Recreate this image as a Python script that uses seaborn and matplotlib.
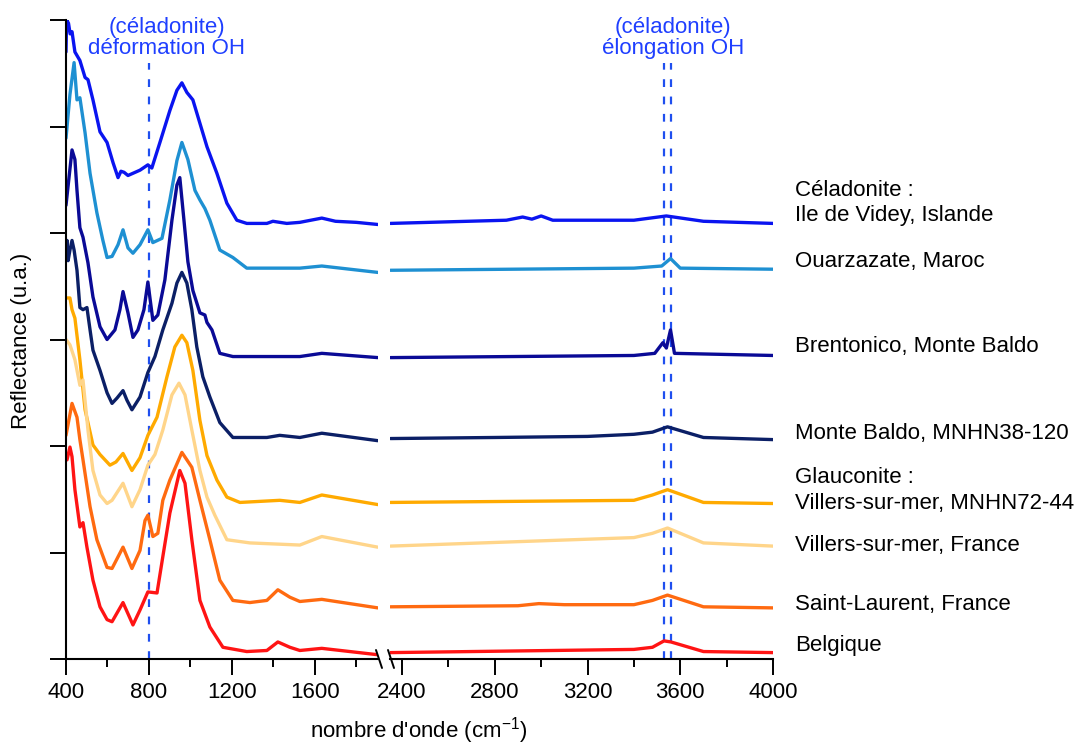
import pandas as pd
import matplotlib
matplotlib.use("Agg")
import matplotlib.pyplot as plt
from matplotlib.lines import Line2D
import seaborn as sns

# spectra (wavenumber in cm-1, reflectance in u.a.)
videy_wn = [400, 403, 412, 420, 429, 443, 467, 492, 506, 530, 564, 598, 627, 651, 665, 680, 699, 757, 795, 814,
            853, 901, 935, 959, 983, 1012, 1046, 1080, 1128, 1176, 1224, 1272, 1369, 1398, 1465, 1528, 1634, 1700,
            1800, 1904,
            2350, 2850, 2920, 2960, 3000, 3050, 3400, 3540, 3700, 4000]
videy_r = [5.70, 6.00, 5.97, 5.87, 5.89, 5.70, 5.62, 5.46, 5.44, 5.25, 4.95, 4.85, 4.66, 4.52, 4.58, 4.57, 4.54,
           4.59, 4.64, 4.61, 4.85, 5.15, 5.34, 5.41, 5.32, 5.25, 5.03, 4.81, 4.56, 4.28, 4.12, 4.09, 4.09, 4.11,
           4.09, 4.10, 4.14, 4.11, 4.10, 4.08,
           4.09, 4.12, 4.15, 4.13, 4.16, 4.12, 4.12, 4.16, 4.11, 4.09]

ouarz_wn = [400, 419, 439, 453, 467, 492, 516, 549, 578, 598, 622, 651, 675, 699, 723, 757, 795, 819, 863, 901,
            935, 959, 988, 1022, 1046, 1070, 1094, 1142, 1205, 1272, 1528, 1634, 1904,
            2350, 3400, 3520, 3558, 3600, 4000]
ouarz_r = [4.89, 5.30, 5.60, 5.25, 5.27, 4.94, 4.56, 4.19, 3.93, 3.77, 3.78, 3.89, 4.03, 3.86, 3.81, 3.89, 4.03,
           3.91, 3.95, 4.31, 4.68, 4.85, 4.69, 4.40, 4.31, 4.23, 4.12, 3.84, 3.77, 3.67, 3.67, 3.69, 3.63,
           3.65, 3.67, 3.69, 3.76, 3.67, 3.66]

brento_wn = [400, 429, 443, 453, 467, 482, 506, 530, 564, 598, 636, 660, 675, 699, 723, 747, 776, 795, 819, 843,
             877, 911, 935, 949, 969, 988, 1012, 1046, 1070, 1080, 1104, 1142, 1205, 1528, 1634, 1904,
             2350, 3400, 3490, 3525, 3540, 3558, 3575, 4000]
brento_r = [4.26, 4.78, 4.69, 4.40, 4.05, 3.96, 3.72, 3.40, 3.12, 3.00, 3.09, 3.28, 3.45, 3.25, 3.02, 3.09, 3.28,
            3.54, 3.18, 3.23, 3.56, 4.12, 4.45, 4.52, 4.12, 3.73, 3.46, 3.25, 3.23, 3.16, 3.09, 2.87, 2.84, 2.84,
            2.87, 2.83,
            2.83, 2.85, 2.87, 2.97, 2.92, 3.09, 2.87, 2.85]

mbaldo_wn = [400, 405, 410, 419, 429, 439, 453, 467, 482, 501, 516, 530, 564, 598, 622, 646, 675, 694, 718, 757,
             795, 829, 867, 911, 935, 959, 983, 1007, 1031, 1060, 1094, 1142, 1205, 1369, 1431, 1528, 1634, 1904,
             2350, 2800, 3200, 3400, 3480, 3545, 3700, 4000]
mbaldo_r = [3.80, 3.93, 3.74, 3.84, 3.93, 3.84, 3.65, 3.30, 3.28, 3.30, 3.09, 2.90, 2.71, 2.50, 2.40, 2.45, 2.52,
            2.43, 2.34, 2.46, 2.69, 2.84, 3.09, 3.34, 3.53, 3.63, 3.53, 3.28, 2.93, 2.65, 2.46, 2.22, 2.08, 2.08,
            2.10, 2.08, 2.12, 2.05,
            2.07, 2.08, 2.09, 2.11, 2.13, 2.18, 2.08, 2.06]

vil72_wn = [400, 419, 429, 443, 467, 492, 530, 564, 612, 641, 675, 718, 757, 795, 839, 887, 925, 959, 983, 1012,
            1046, 1080, 1128, 1176, 1239, 1431, 1528, 1634, 1904,
            2350, 3400, 3480, 3545, 3700, 4000]
vil72_r = [3.39, 3.39, 3.28, 3.20, 2.81, 2.34, 2.01, 1.92, 1.82, 1.85, 1.93, 1.77, 1.89, 2.10, 2.27, 2.65, 2.93,
           3.04, 2.97, 2.71, 2.24, 1.91, 1.68, 1.52, 1.47, 1.49, 1.47, 1.54, 1.45,
           1.47, 1.49, 1.54, 1.59, 1.47, 1.46]

vilfr_wn = [400, 419, 443, 467, 482, 506, 530, 564, 598, 622, 675, 718, 757, 795, 829, 867, 911, 945, 974, 1007,
            1046, 1080, 1118, 1176, 1287, 1528, 1634, 1904,
            2350, 3400, 3480, 3545, 3700, 4000]
vilfr_r = [3.00, 2.95, 2.81, 2.57, 2.62, 2.15, 1.77, 1.54, 1.46, 1.49, 1.65, 1.43, 1.59, 1.82, 1.92, 2.15, 2.48,
           2.59, 2.48, 2.15, 1.77, 1.52, 1.35, 1.12, 1.09, 1.07, 1.15, 1.05,
           1.06, 1.14, 1.18, 1.23, 1.09, 1.06]

stlau_wn = [400, 429, 453, 467, 482, 516, 549, 598, 622, 675, 718, 757, 781, 795, 819, 843, 867, 901, 959, 1007,
            1046, 1094, 1142, 1205, 1287, 1369, 1422, 1480, 1528, 1634, 1904,
            2350, 2900, 2990, 3100, 3400, 3480, 3545, 3700, 4000]
stlau_r = [2.10, 2.40, 2.27, 2.06, 1.87, 1.43, 1.12, 0.86, 0.85, 1.05, 0.85, 1.02, 1.30, 1.35, 1.15, 1.18, 1.49,
           1.68, 1.94, 1.80, 1.49, 1.12, 0.74, 0.55, 0.53, 0.55, 0.65, 0.58, 0.54, 0.56, 0.48,
           0.49, 0.50, 0.52, 0.51, 0.51, 0.55, 0.60, 0.49, 0.48]

belg_wn = [400, 405, 419, 429, 443, 467, 482, 501, 530, 564, 598, 622, 675, 723, 757, 795, 839, 867, 901, 949,
           974, 1007, 1046, 1094, 1157, 1272, 1369, 1422, 1480, 1528, 1634, 1904,
           2350, 3400, 3480, 3530, 3560, 3700, 4000]
belg_r = [1.87, 1.87, 1.99, 1.90, 1.59, 1.24, 1.28, 1.05, 0.74, 0.49, 0.37, 0.35, 0.53, 0.32, 0.46, 0.63, 0.62,
          0.96, 1.37, 1.77, 1.65, 1.12, 0.55, 0.30, 0.11, 0.07, 0.08, 0.16, 0.11, 0.08, 0.10, 0.04,
          0.06, 0.09, 0.11, 0.17, 0.16, 0.07, 0.06]

samples = ["Videy", "Ouarzazate", "Brentonico", "MNHN38-120", "MNHN72-44", "Villers", "Saint-Laurent", "Belgique"]
spectra = [(videy_wn, videy_r), (ouarz_wn, ouarz_r), (brento_wn, brento_r), (mbaldo_wn, mbaldo_r),
           (vil72_wn, vil72_r), (vilfr_wn, vilfr_r), (stlau_wn, stlau_r), (belg_wn, belg_r)]
colors = ["#0A14F0", "#1E90D2", "#0A0A96", "#0B1F66", "#FFAA00", "#FFD58A", "#FF6A10", "#FF1414"]

labels = ["Céladonite :", "Ile de Videy, Islande", "Ouarzazate, Maroc", "Brentonico, Monte Baldo",
          "Monte Baldo, MNHN38-120", "Glauconite :", "Villers-sur-mer, MNHN72-44", "Villers-sur-mer, France",
          "Saint-Laurent, France", "Belgique"]
label_y = [4.40, 4.16, 3.73, 2.93, 2.12, 1.70, 1.46, 1.07, 0.51, 0.13]

oh_bend = [800]
oh_stretch = [3530, 3558]

rows = []
for name, (wn, r) in zip(samples, spectra):
    for w, v in zip(wn, r):
        rows.append((name, w, v))
df = pd.DataFrame(rows, columns=["sample", "wn", "refl"])
df_left = df[df["wn"] < 2100]
df_right = df[df["wn"] > 2100]

sns.set_style("ticks")
plt.rcParams["font.family"] = ["Liberation Sans", "DejaVu Sans"]
plt.rcParams["mathtext.fontset"] = "custom"
plt.rcParams["mathtext.rm"] = "Liberation Sans"
plt.rcParams["axes.linewidth"] = 1.5
plt.rcParams["text.color"] = "black"
plt.rcParams["xtick.color"] = "black"
plt.rcParams["ytick.color"] = "black"
plt.rcParams["xtick.labelcolor"] = "black"

pal = dict(zip(samples, colors))
fig = plt.figure(figsize=(10.87, 7.47), dpi=100)
ax1 = fig.add_axes([66 / 1087, 88 / 747, 312 / 1087, 639 / 747])
ax2 = fig.add_axes([390 / 1087, 88 / 747, 383 / 1087, 639 / 747], sharey=ax1)

for ax, d in [(ax1, df_left), (ax2, df_right)]:
    sns.lineplot(data=d, x="wn", y="refl", hue="sample", palette=pal, estimator=None,
                 linewidth=2.4, legend=False, ax=ax)
    ax.set_xlabel("")
    ax.set_ylabel("")
    ax.spines["top"].set_visible(False)
    ax.spines["right"].set_visible(False)
    for s in ax.spines.values():
        s.set_color("black")
    ax.tick_params(axis="x", which="major", length=11.5, width=1.4, labelsize=16, pad=5,
                   color="black", labelcolor="black")
    ax.tick_params(axis="x", which="minor", length=6, width=1.4, color="black")

ax1.set_xlim(400, 1905)
ax1.set_ylim(0, 6)
ax1.set_xticks([400, 800, 1200, 1600])
ax1.set_xticks([600, 1000, 1400, 1800], minor=True)
ax1.set_yticks(range(0, 7))
ax1.set_yticklabels([])
ax1.tick_params(axis="y", length=11.5, width=1.4, color="black")

ax2.set_xlim(2348, 4000)
ax2.set_xticks([2400, 2800, 3200, 3600, 4000])
ax2.set_xticks([2600, 3000, 3400, 3800], minor=True)
ax2.spines["left"].set_visible(False)
ax2.tick_params(axis="y", left=False, labelleft=False)

blue = "#1F4FEF"
dash = (0, (3.5, 4.3))
for x in oh_bend:
    ax1.vlines(x, 0, 5.6, colors=blue, linestyles=dash, linewidth=1.6, zorder=1)
for x in oh_stretch:
    ax2.vlines(x, 0, 5.6, colors=blue, linestyles=dash, linewidth=1.6, zorder=1)

ax1.text(887, 5.63, "(céladonite)\ndéformation OH", ha="center", va="bottom", color="#1F3FFF",
         fontsize=16, linespacing=1.05, clip_on=False)
ax2.text(3568, 5.63, "(céladonite)\nélongation OH", ha="center", va="bottom", color="#1F3FFF",
         fontsize=16, linespacing=1.05, clip_on=False)

for txt, y in zip(labels, label_y):
    ax2.text(4095, y, txt, ha="left", va="center", fontsize=16, color="black", clip_on=False)

# axis break marks
for x0 in (376, 388):
    fig.add_artist(Line2D([x0 / 1087, (x0 + 6) / 1087], [1 - 650 / 747, 1 - 668 / 747],
                          color="black", linewidth=1.4))

fig.text(22 / 1087, 1 - 341 / 747, "Reflectance (u.a.)", rotation=90, ha="center", va="center", fontsize=16)
fig.text(419 / 1087, 1 - 731 / 747, "nombre d'onde (cm$^{\\mathregular{-1}}$)", ha="center", va="center",
         fontsize=16)

fig.savefig("out.png", dpi=100)
